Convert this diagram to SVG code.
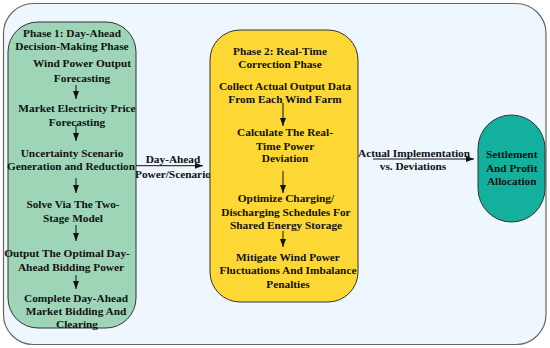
<svg xmlns="http://www.w3.org/2000/svg" width="550" height="348" viewBox="0 0 550 348">
<style>
text{font-family:"Liberation Serif","Times New Roman",serif;font-weight:bold;font-size:11.3px;fill:#111;text-anchor:middle}
.box{stroke:#333;stroke-width:1}
.c{stroke:#111;stroke-width:1;fill:none;marker-end:url(#ah)}
</style>
<defs>
<marker id="ah" markerUnits="userSpaceOnUse" markerWidth="8" markerHeight="6" refX="8" refY="3" orient="auto">
<path d="M0,0 L8,3 L0,6 z" fill="#111"/>
</marker>
</defs>
<rect id="frame" x="3.5" y="3.5" width="542.5" height="341" rx="30" fill="#eef6fe" stroke="#666" stroke-width="1.2"/>
<g id="labels-between">
<text x="173" y="163">Day-Ahead</text>
<text x="135" y="178" style="text-anchor:start">Power/Scenario</text>
<text x="358" y="156.5" style="text-anchor:start">Actual Implementation</text>
<text x="413" y="170">vs. Deviations</text>
</g>
<g id="phase1">
<rect class="box" x="8" y="22" width="128" height="306" rx="30" fill="#9fd5b7"/>
<text x="72" y="36.5">Phase 1: Day-Ahead</text>
<text x="72" y="50">Decision-Making Phase</text>
<text x="82" y="67">Wind Power Output</text>
<text x="82" y="82">Forecasting</text>
<text x="77" y="112">Market Electricity Price</text>
<text x="77" y="126">Forecasting</text>
<text x="72" y="157">Uncertainty Scenario</text>
<text x="71" y="170">Generation and Reduction</text>
<text x="73" y="208">Solve Via The Two-</text>
<text x="73" y="222">Stage Model</text>
<text x="67" y="257">Output The Optimal Day-</text>
<text x="71" y="271">Ahead Bidding Power</text>
<text x="76" y="302">Complete Day-Ahead</text>
<text x="76" y="315">Market Bidding And</text>
<text x="77" y="328">Clearing</text>
</g>
<g id="phase2">
<rect class="box" x="210" y="30" width="148" height="272" rx="30" fill="#fdd835"/>
<text x="280" y="54.7">Phase 2: Real-Time</text>
<text x="280" y="68">Correction Phase</text>
<text x="285" y="89.7">Collect Actual Output Data</text>
<text x="285" y="103">From Each Wind Farm</text>
<text x="285" y="135.7">Calculate The Real-</text>
<text x="285" y="149.7">Time Power</text>
<text x="285" y="162">Deviation</text>
<text x="286" y="202">Optimize Charging/</text>
<text x="286" y="215.7">Discharging Schedules For</text>
<text x="286" y="229">Shared Energy Storage</text>
<text x="288" y="261">Mitigate Wind Power</text>
<text x="288" y="274">Fluctuations And Imbalance</text>
<text x="288" y="288">Penalties</text>
</g>
<g id="settlement">
<rect class="box" x="478" y="115" width="67" height="107" rx="33.5" fill="#13b09d"/>
<text x="511.7" y="158">Settlement</text>
<text x="511.7" y="172">And Profit</text>
<text x="511.7" y="185">Allocation</text>
</g>
<g id="connectors">
<line class="c" x1="76" y1="85" x2="76" y2="99"/>
<line class="c" x1="76" y1="125" x2="76" y2="141"/>
<line class="c" x1="76" y1="178" x2="76" y2="193"/>
<line class="c" x1="76" y1="225" x2="76" y2="241"/>
<line class="c" x1="76" y1="275" x2="76" y2="289"/>
<line class="c" x1="283" y1="103" x2="283" y2="126"/>
<line class="c" x1="283" y1="171" x2="283" y2="193"/>
<line class="c" x1="283" y1="231" x2="283" y2="247"/>
<line class="c" x1="136" y1="165.7" x2="203" y2="165.7"/>
<line class="c" x1="373" y1="159" x2="474" y2="159"/>
</g>
</svg>
